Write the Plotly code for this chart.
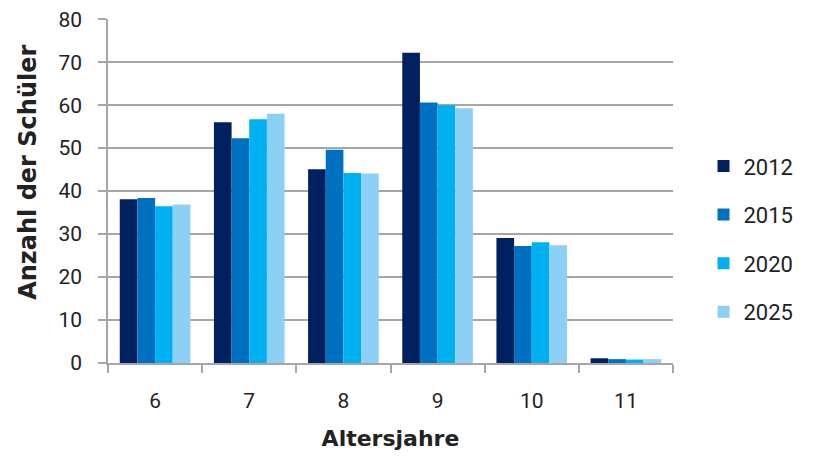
import plotly.graph_objects as go

categories = ["6", "7", "8", "9", "10", "11"]
years = ["2012", "2015", "2020", "2025"]
v2012 = [38.1, 56.0, 45.1, 72.2, 29.1, 1.1]
v2015 = [38.4, 52.3, 49.6, 60.6, 27.2, 0.9]
v2020 = [36.5, 56.7, 44.2, 60.0, 28.1, 0.8]
v2025 = [36.9, 58.0, 44.1, 59.3, 27.4, 0.9]
colors = ["#002060", "#0070C0", "#00B0F0", "#8DD0F5"]

fig = go.Figure()
for i, (name, vals) in enumerate(zip(years, [v2012, v2015, v2020, v2025])):
    fig.add_trace(go.Bar(x=categories, y=vals, name=name, marker_color=colors[i],
                         marker_line_width=0, legendgroup=name))

font = "Roboto, DejaVu Sans Condensed, sans-serif"
tfont = "DejaVu Sans, sans-serif"
fig.update_layout(
    width=813, height=457,
    margin=dict(l=100, r=148, t=11, b=102, autoexpand=False),
    paper_bgcolor="white", plot_bgcolor="white",
    barmode="group", bargap=0.25, bargroupgap=0,
    font=dict(family=font, size=21, color="#222222"),
    legend=dict(x=1.054, y=0.36, xanchor="left", yanchor="middle",
                font=dict(size=22), tracegroupgap=17, traceorder="grouped"),
    xaxis=dict(title=dict(text="<b>Altersjahre</b>", font=dict(size=22, family=tfont), standoff=19),
               automargin=False, ticklabelstandoff=18,
               showline=True, linecolor="#A6A6A6", linewidth=1.5,
               ticks="outside", tickson="boundaries", ticklen=8, tickcolor="#A6A6A6",
               tickwidth=1.5, showgrid=False),
    yaxis=dict(automargin=False, ticklabelstandoff=12, ticklabeloverflow="allow",
               range=[0, 80.05], tickvals=[0, 10, 20, 30, 40, 50, 60, 70, 80],
               showline=True, linecolor="#A6A6A6", linewidth=1.5,
               ticks="outside", ticklen=8, tickcolor="#A6A6A6", tickwidth=1.5,
               showgrid=True, gridcolor="#A6A6A6", gridwidth=1.5, zeroline=False),
    annotations=[dict(text="<b>Anzahl der Schüler</b>", textangle=-90,
                      xref="paper", yref="paper", x=-0.142, y=0.555,
                      xanchor="center", yanchor="middle", showarrow=False,
                      font=dict(size=24, family=tfont, color="#222222"))],
)
fig.write_html("out.html")
